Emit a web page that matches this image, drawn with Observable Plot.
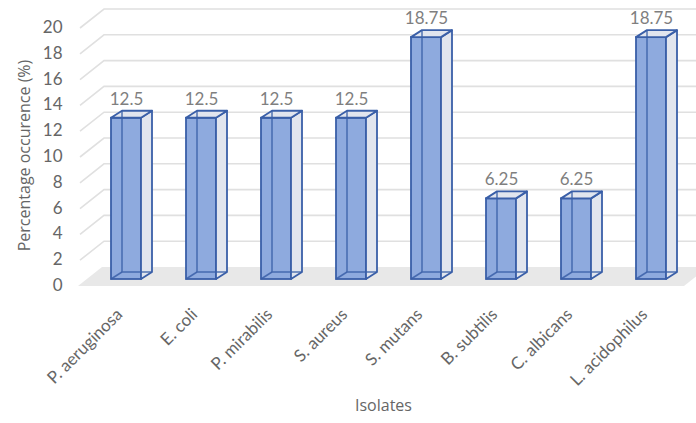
<!DOCTYPE html>
<html>
<head>
<meta charset="utf-8">
<script src="https://cdn.jsdelivr.net/npm/d3@7"></script>
<script src="https://cdn.jsdelivr.net/npm/@observablehq/plot@0.6"></script>
<style>
  html, body { margin: 0; padding: 0; background: #fff; }
  #chart svg { display: block; }
</style>
</head>
<body>
<div id="chart"></div>
<script>
// ---- data ----
const isolates = ["P. aeruginosa", "E. coli", "P. mirabilis", "S. aureus", "S. mutans", "B. subtilis", "C. albicans", "L. acidophilus"];
const occurrence = [12.5, 12.5, 12.5, 12.5, 18.75, 6.25, 6.25, 18.75];
const yTicks = [0, 2, 4, 6, 8, 10, 12, 14, 16, 18, 20];
const yTitle = "Percentage occurence (%)";
const xTitle = "Isolates";

const data = isolates.map((name, i) => ({name, value: occurrence[i]}));

const FONT = "Lato, 'Open Sans', 'Liberation Sans', sans-serif";
const TITLE_FONT = "'Open Sans', Lato, sans-serif";
const FRONT = "#8eaade";
const EDGE = "#3a5fa8";
const SIDE = "#e1e5ee";

const plot = Plot.plot({
  width: 696,
  height: 423,
  marginLeft: 80,
  marginRight: 0,
  marginTop: 21,
  marginBottom: 144,
  style: {fontFamily: FONT, background: "#fff", overflow: "hidden"},
  x: {domain: isolates, paddingInner: 0.6, paddingOuter: 0.4, axis: null},
  y: {domain: [0, 20], axis: null},
  marks: [
    Plot.axisY({ticks: yTicks, tickSize: 0, tickPadding: 18, dy: 6, fontSize: 17, color: "#666", label: null}),
    Plot.barY(data, {x: "name", y: "value", fill: FRONT, stroke: EDGE, strokeWidth: 1.8}),
    Plot.text(data, {x: "name", y: "value", text: d => String(d.value), dy: -19, fontSize: 17, fill: "#7f7f7f"}),
    Plot.text(data, {x: "name", text: "name", frameAnchor: "bottom", rotate: -45, textAnchor: "end", dx: -3, dy: 36, fontSize: 17, fill: "#666"}),
    Plot.text([yTitle], {text: d => d, frameAnchor: "left", textAnchor: "middle", rotate: -90, dx: -56, dy: 5, fontSize: 16, fontFamily: TITLE_FONT, fill: "#666"}),
    Plot.text([xTitle], {text: d => d, frameAnchor: "bottom", dx: -5, dy: 131, fontSize: 16, fontFamily: TITLE_FONT, fill: "#666"})
  ]
});

document.getElementById("chart").appendChild(plot);

// ---- 3D decoration drawn through Plot's scales ----
const xs = plot.scale("x");
const ys = plot.scale("y");
const bw = xs.bandwidth;
const [xL, xR] = xs.range;
const y0 = ys.apply(0);
const WDX = 24, WDY = 19, FRONT_OFF = 7;   // wall depth
const D = 11, E = 7;                        // bar depth

const svg = d3.select(plot);
const back = svg.insert("g", ":first-child");
const line = d3.line();

// floor
back.append("path")
  .attr("d", line([[xL - 2, y0 + FRONT_OFF], [xR - 12, y0 + FRONT_OFF], [xR - 12 + WDX, y0 + FRONT_OFF - WDY], [xL - 2 + WDX, y0 + FRONT_OFF - WDY]]) + "Z")
  .attr("fill", "#e8e8e8");

// gridlines (side wall diagonal + back wall)
yTicks.filter(v => v > 0).forEach(v => {
  const yy = ys.apply(v);
  back.append("path")
    .attr("d", line([[xL, yy + FRONT_OFF], [xL + WDX, yy + FRONT_OFF - WDY], [xR, yy + FRONT_OFF - WDY]]))
    .attr("fill", "none").attr("stroke", "#e0e0e0").attr("stroke-width", 1.6);
});

// bar side/top faces and see-through edges
const front = svg.append("g");
data.forEach(d => {
  const x0 = xs.apply(d.name), x1 = x0 + bw;
  const yt = ys.apply(d.value);
  front.append("path")
    .attr("d", line([[x1, yt], [x1 + D, yt - E], [x1 + D, y0 - E], [x1, y0]]) + "Z")
    .attr("fill", SIDE).attr("stroke", EDGE).attr("stroke-width", 1.8).attr("stroke-linejoin", "round");
  front.append("path")
    .attr("d", line([[x0, yt], [x0 + D, yt - E], [x1 + D, yt - E], [x1, yt]]) + "Z")
    .attr("fill", SIDE).attr("stroke", EDGE).attr("stroke-width", 1.8).attr("stroke-linejoin", "round");
  front.append("path")
    .attr("d", line([[x0 + D, yt - E], [x0 + D, y0 - E], [x1 + D, y0 - E]]))
    .attr("fill", "none").attr("stroke", EDGE).attr("stroke-width", 1.5).attr("stroke-opacity", 0.85);
  front.append("path")
    .attr("d", line([[x0, y0], [x0 + D, y0 - E]]))
    .attr("fill", "none").attr("stroke", EDGE).attr("stroke-width", 1.5).attr("stroke-opacity", 0.85);
});
</script>
</body>
</html>
